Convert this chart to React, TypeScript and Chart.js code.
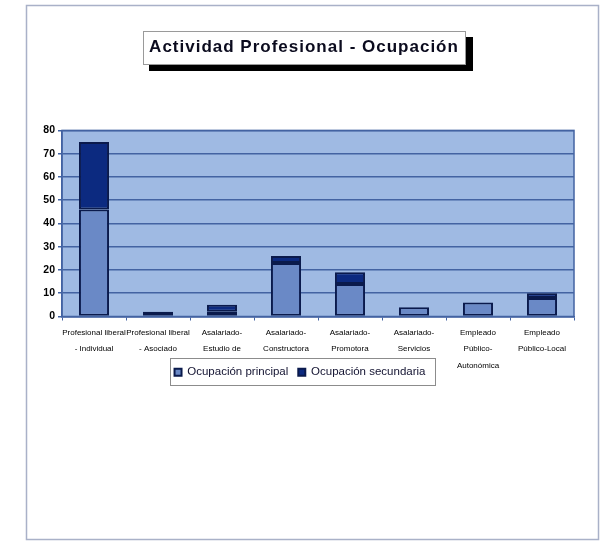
import { useEffect, useRef } from "react";
import { Chart, registerables } from "chart.js";

Chart.register(...registerables);

// ---- data ----
const categories: string[][] = [
  ["Profesional liberal", "- Individual"],
  ["Profesional liberal", "- Asociado"],
  ["Asalariado-", "Estudio de"],
  ["Asalariado-", "Constructora"],
  ["Asalariado-", "Promotora"],
  ["Asalariado-", "Servicios"],
  ["Empleado", "Público-", "Autonómica"],
  ["Empleado", "Público-Local"],
];
const seriesNames = ["Ocupación principal", "Ocupación secundaria"];
const principal = [46, 0, 2, 23, 14, 4, 6, 8];
const secundaria = [29, 2, 3, 3, 5, 0, 0, 2];
const yTickValues = [0, 10, 20, 30, 40, 50, 60, 70, 80];
const titleText = "Actividad Profesional - Ocupación";

// ---- styles ----
const FONT = "'Liberation Sans', Arial, sans-serif";
const COL_PRINCIPAL = "#6a89c6";
const COL_SECUNDARIA = "#0c2a80";
const COL_BORDER = "#0a1a4c";
const COL_PLOT_BG = "#9fbae3";
const COL_GRID = "#4363a2";
const X_AXIS_HEIGHT = 58;
const LEGEND_SHIFT = 18;

const decorPlugin = {
  id: "decor",
  afterLayout(chart: any) {
    const t = chart.titleBlock;
    if (t && !t.__patched) {
      const orig = t.draw.bind(t);
      t.draw = (area: any) => {
        const ctx = chart.ctx;
        ctx.save();
        (ctx as any).letterSpacing = "1px";
        ctx.translate(4, 0);
        orig(area);
        ctx.restore();
      };
      t.__patched = true;
    }
  },
  afterUpdate(chart: any) {
    const lg = chart.legend;
    if (lg) {
      lg.top -= LEGEND_SHIFT;
      lg.bottom -= LEGEND_SHIFT;
      if (lg.legendHitBoxes) {
        for (const h of lg.legendHitBoxes) h.top -= LEGEND_SHIFT;
      }
    }
  },
  beforeDraw(chart: any) {
    const ctx = chart.ctx as CanvasRenderingContext2D;
    const { chartArea } = chart;
    ctx.save();
    ctx.fillStyle = "#ffffff";
    ctx.fillRect(0, 0, chart.width, chart.height);
    // outer frame
    ctx.strokeStyle = "#a9b1c8";
    ctx.lineWidth = 1.5;
    ctx.strokeRect(26.5, 5.5, 572, 534);
    // title box with shadow
    ctx.fillStyle = "#000000";
    ctx.fillRect(149, 37, 324, 34);
    ctx.fillStyle = "#ffffff";
    ctx.fillRect(143, 31, 323, 34);
    ctx.strokeStyle = "#9a9a9a";
    ctx.lineWidth = 1;
    ctx.strokeRect(143.5, 31.5, 322, 33);
    // plot background
    ctx.fillStyle = COL_PLOT_BG;
    ctx.fillRect(chartArea.left, chartArea.top, chartArea.right - chartArea.left, chartArea.bottom - chartArea.top);
    // legend frame
    const hb = chart.legend && chart.legend.legendHitBoxes;
    if (hb && hb.length) {
      let l = Infinity, r = -Infinity, tp = Infinity, b = -Infinity;
      for (const h of hb) {
        l = Math.min(l, h.left);
        r = Math.max(r, h.left + h.width);
        tp = Math.min(tp, h.top);
        b = Math.max(b, h.top + h.height);
      }
      const cy = (tp + b) / 2;
      ctx.strokeStyle = "#8c8c8c";
      ctx.lineWidth = 1;
      ctx.strokeRect(Math.round(l - 5) + 0.5, Math.round(cy - 14) + 0.5, Math.round(r - l + 14), 27);
    }
    ctx.restore();
  },
  afterDraw(chart: any) {
    const ctx = chart.ctx as CanvasRenderingContext2D;
    const { chartArea } = chart;
    ctx.save();
    ctx.strokeStyle = COL_GRID;
    ctx.lineWidth = 1.5;
    ctx.strokeRect(chartArea.left, chartArea.top, chartArea.right - chartArea.left, chartArea.bottom - chartArea.top);
    ctx.restore();
  },
};

export default function App() {
  const ref = useRef<HTMLCanvasElement | null>(null);

  useEffect(() => {
    if (!ref.current) return;
    Chart.defaults.font.family = FONT;
    const chart = new Chart(ref.current, {
      type: "bar",
      data: {
        labels: categories,
        datasets: [
          {
            label: seriesNames[0],
            data: principal,
            backgroundColor: COL_PRINCIPAL,
            borderColor: COL_BORDER,
            borderWidth: 2,
            borderSkipped: false,
            barPercentage: 0.47,
            categoryPercentage: 1,
          },
          {
            label: seriesNames[1],
            data: secundaria,
            backgroundColor: COL_SECUNDARIA,
            borderColor: COL_BORDER,
            borderWidth: 2,
            borderSkipped: false,
            barPercentage: 0.47,
            categoryPercentage: 1,
          },
        ],
      },
      options: {
        responsive: false,
        animation: false,
        devicePixelRatio: 1,
        layout: { padding: { top: 0, left: 26, right: 34, bottom: 135 } },
        plugins: {
          tooltip: { enabled: false },
          title: {
            display: true,
            text: titleText,
            color: "#0b0b1e",
            font: { family: FONT, size: 17, weight: "bold", lineHeight: 1.2 },
            padding: { top: 37, bottom: 73 },
          },
          legend: {
            display: true,
            position: "bottom",
            align: "center",
            labels: {
              boxWidth: 7,
              boxHeight: 7,
              padding: 10,
              color: "#121230",
              font: { family: FONT, size: 11.5 },
            },
          },
        },
        scales: {
          x: {
            stacked: true,
            grid: {
              display: true,
              drawOnChartArea: false,
              drawTicks: true,
              tickLength: 4,
              color: COL_GRID,
            },
            border: { display: true, color: COL_GRID, width: 1.5 },
            ticks: {
              autoSkip: false,
              maxRotation: 0,
              minRotation: 0,
              padding: 4,
              color: "#000000",
              font: { family: FONT, size: 8, lineHeight: 2.05 },
            },
            afterFit: (scale: any) => {
              scale.height = X_AXIS_HEIGHT;
            },
          },
          y: {
            stacked: true,
            min: 0,
            max: 80,
            afterBuildTicks: (scale: any) => {
              scale.ticks = yTickValues.map((v) => ({ value: v }));
            },
            grid: {
              color: COL_GRID,
              lineWidth: 1.5,
              tickLength: 4,
            },
            border: { display: true, color: COL_GRID, width: 1.5 },
            ticks: {
              padding: 3,
              color: "#000000",
              font: { family: FONT, size: 10.5, weight: "bold" },
            },
            afterFit: (scale: any) => {
              scale.width = 36;
            },
          },
        },
      },
      plugins: [decorPlugin],
    } as any);
    return () => chart.destroy();
  }, []);

  return (
    <canvas
      ref={ref}
      width={608}
      height={541}
      style={{ position: "absolute", left: 0, top: 0, width: 608, height: 541 }}
    />
  );
}
